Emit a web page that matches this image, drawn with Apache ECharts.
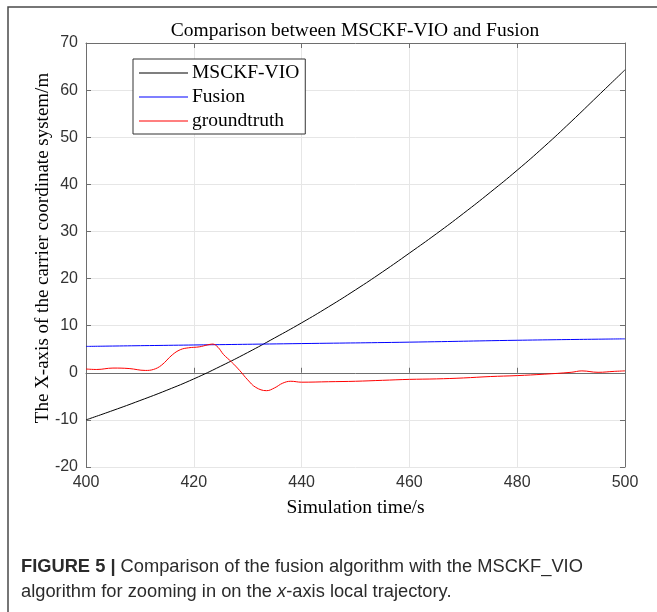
<!DOCTYPE html>
<html>
<head>
<meta charset="utf-8">
<script src="https://cdn.jsdelivr.net/npm/echarts@6/dist/echarts.min.js"></script>
<style>
  html, body { margin: 0; padding: 0; background: #fff; }
  #chart { width: 657px; height: 612px; }
</style>
</head>
<body>
<div id="chart"></div>
<script>
// values
const xTicks = [400, 420, 440, 460, 480, 500];
const yTicks = [-20, -10, 0, 10, 20, 30, 40, 50, 60, 70];

const msckfTime = [400, 405, 410, 415, 420, 425, 430, 435, 440, 445, 450, 455, 460, 465, 470, 475, 480, 485, 490, 495, 500];
const msckfVal = [-10.0, -8.0, -5.9, -3.7, -1.3, 1.4, 4.3, 7.4, 10.6, 14.0, 17.6, 21.4, 25.4, 29.5, 33.8, 38.3, 43.0, 48.0, 53.3, 58.8, 64.3];

const fusionTime = [400, 420, 440, 460, 480, 500];
const fusionVal = [5.6, 5.9, 6.2, 6.5, 6.9, 7.2];

const truthTime = [400, 402, 405, 408, 411, 412.5, 414, 416, 417.5, 419, 421, 422.5, 423.5, 424.5, 425.5, 427, 428.5, 430, 431.5, 433.5, 435, 436.5, 438, 440, 445, 450, 455, 460, 465, 470, 475, 480, 485, 490, 492, 495, 498, 500];
const truthVal = [0.8, 0.7, 1.0, 0.9, 0.5, 0.7, 1.6, 3.8, 4.9, 5.3, 5.5, 5.9, 6.1, 5.4, 3.9, 2.3, 0.5, -1.5, -3.1, -3.8, -3.2, -2.2, -1.8, -2.0, -1.9, -1.8, -1.6, -1.4, -1.3, -1.1, -0.8, -0.6, -0.3, 0.1, 0.4, 0.1, 0.3, 0.4];

const pairs = (xs, ys) => xs.map((x, i) => [x, ys[i]]);

const serif = '"Liberation Serif", "DejaVu Serif", serif';
const sans = '"Liberation Sans", Arial, sans-serif';
const axisColor = '#6e6e6e';

const chart = echarts.init(document.getElementById('chart'));

const baseX = {
    type: 'value',
    min: xTicks[0],
    max: xTicks[xTicks.length - 1],
    interval: 20
};
const baseY = {
    type: 'value',
    min: yTicks[0],
    max: yTicks[yTicks.length - 1],
    interval: 10
};

chart.setOption({
    animation: false,
    title: {
        text: 'Comparison between MSCKF-VIO and Fusion',
        left: 350,
        textAlign: 'center',
        top: 16,
        textStyle: {fontFamily: serif, fontSize: 19.5, fontWeight: 'normal', color: '#000'}
    },
    grid: {left: 86, right: 32, top: 43, bottom: 145},
    legend: {
        orient: 'vertical',
        left: 133,
        top: 59,
        padding: [4, 6, 3, 6],
        itemGap: 4,
        itemWidth: 49,
        itemHeight: 1,
        icon: 'rect',
        backgroundColor: '#fff',
        borderColor: '#333',
        borderWidth: 1,
        textStyle: {fontFamily: serif, fontSize: 19.5, color: '#000', padding: [0, 0, 0, -1]},
        data: ['MSCKF-VIO', 'Fusion', 'groundtruth']
    },
    xAxis: [
        Object.assign({}, baseX, {
            position: 'bottom',
            name: 'Simulation time/s',
            nameLocation: 'middle',
            nameGap: 31,
            nameTextStyle: {fontFamily: serif, fontSize: 19.5, color: '#000'},
            axisLine: {show: true, lineStyle: {color: axisColor}},
            axisTick: {show: true, inside: true, length: 5, lineStyle: {color: axisColor}},
            axisLabel: {fontFamily: sans, fontSize: 16, color: '#333', margin: 8},
            splitLine: {show: true, lineStyle: {color: '#e6e6e6'}}
        }),
        Object.assign({}, baseX, {
            position: 'top',
            axisLine: {show: true, onZero: false, lineStyle: {color: axisColor}},
            axisTick: {show: true, inside: true, length: 5, lineStyle: {color: axisColor}},
            axisLabel: {show: false},
            splitLine: {show: false}
        })
    ],
    yAxis: [
        Object.assign({}, baseY, {
            position: 'left',
            name: 'The X-axis of the carrier coordinate system/m',
            nameLocation: 'middle',
            nameGap: 33,
            nameMoveOverlap: false,
            nameTextStyle: {fontFamily: serif, fontSize: 19, color: '#000', padding: [0, 0, 0, 14]},
            axisLine: {show: true, onZero: false, lineStyle: {color: axisColor}},
            axisTick: {show: true, inside: true, length: 5, lineStyle: {color: axisColor}},
            axisLabel: {fontFamily: sans, fontSize: 16, color: '#333', margin: 8},
            splitLine: {show: true, lineStyle: {color: '#e6e6e6'}}
        }),
        Object.assign({}, baseY, {
            position: 'right',
            axisLine: {show: true, onZero: false, lineStyle: {color: axisColor}},
            axisTick: {show: true, inside: true, length: 5, lineStyle: {color: axisColor}},
            axisLabel: {show: false},
            splitLine: {show: false}
        })
    ],
    series: [
        {
            name: 'MSCKF-VIO',
            type: 'line',
            data: pairs(msckfTime, msckfVal),
            smooth: true,
            showSymbol: false,
            lineStyle: {color: '#000', width: 1},
            itemStyle: {color: '#000'}
        },
        {
            name: 'Fusion',
            type: 'line',
            data: pairs(fusionTime, fusionVal),
            smooth: true,
            showSymbol: false,
            lineStyle: {color: '#0000ff', width: 1},
            itemStyle: {color: '#0000ff'}
        },
        {
            name: 'groundtruth',
            type: 'line',
            data: pairs(truthTime, truthVal),
            smooth: 0.4,
            showSymbol: false,
            lineStyle: {color: '#ff0000', width: 1},
            itemStyle: {color: '#ff0000'}
        }
    ],
    graphic: [
        {
            type: 'rect',
            shape: {x: 8, y: 7, width: 700, height: 700},
            style: {fill: 'none', stroke: '#4a4a4a', lineWidth: 1.5},
            silent: true
        },
        {
            type: 'text',
            left: 21,
            top: 554,
            style: {
                text: '{b|FIGURE 5 |} Comparison of the fusion algorithm with the MSCKF_VIO\nalgorithm for zooming in on the {i|x}-axis local trajectory.',
                fontFamily: sans,
                fontSize: 18.3,
                lineHeight: 25,
                fill: '#2b2b2b',
                rich: {
                    b: {fontFamily: sans, fontSize: 18.3, fontWeight: 'bold', fill: '#2b2b2b', lineHeight: 25},
                    i: {fontFamily: sans, fontSize: 18.3, fontStyle: 'italic', fill: '#2b2b2b', lineHeight: 25}
                }
            }
        }
    ]
});
</script>
</body>
</html>
